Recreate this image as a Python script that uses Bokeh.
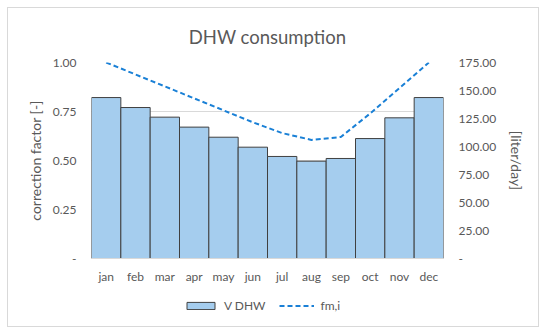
from bokeh.plotting import figure
from bokeh.layouts import column
from bokeh.models import (Range1d, LinearAxis, FixedTicker, CustomJSTickFormatter,
                          Legend, LegendItem, Title, ColumnDataSource)
from bokeh.embed import file_html
from bokeh.resources import INLINE

months = ["jan", "feb", "mar", "apr", "may", "jun", "jul", "aug", "sep", "oct", "nov", "dec"]
v_dhw = [143.7, 134.8, 126.2, 117.3, 108.3, 99.4, 91.1, 86.9, 89.3, 107.1, 125.6, 143.7]
fm_i = [1.0, 0.939, 0.878, 0.817, 0.756, 0.695, 0.64, 0.605, 0.62, 0.74, 0.87, 1.0]
left_ticks = [0, 0.25, 0.5, 0.75, 1.0]
right_ticks = [0, 25, 50, 75, 100, 125, 150, 175]

FONT = "Lato"
GRAY = "#595959"
BAR_FILL = "#a5cdee"
BAR_LINE = "#404040"
LINE_COLOR = "#1a80d6"

src = ColumnDataSource(dict(month=months, vdhw=v_dhw, fm=fm_i))

p = figure(x_range=months, y_range=Range1d(0, 1.0), width=530, height=278,
           output_backend="svg", toolbar_location=None,
           min_border_left=83, min_border_right=95, min_border_top=54, min_border_bottom=26)
p.outline_line_color = None
p.extra_y_ranges = {"r": Range1d(0, 175)}

bars = p.vbar(x="month", top="vdhw", width=1.0, source=src, y_range_name="r",
              fill_color=BAR_FILL, line_color=BAR_LINE, line_width=1)
line = p.line(x="month", y="fm", source=src, line_color=LINE_COLOR, line_width=2,
              line_dash="5 3")

p.title = Title(text="DHW consumption", align="center", text_font=FONT,
                text_font_size="18.5px", text_color=GRAY, text_font_style="normal",
                standoff=30)

fmt = CustomJSTickFormatter(code="return tick == 0 ? '-' : tick.toFixed(2);")

ya = p.yaxis[0]
ya.ticker = FixedTicker(ticks=left_ticks)
ya.formatter = fmt
ya.axis_label = "correction factor [-]"

ra = LinearAxis(y_range_name="r", ticker=FixedTicker(ticks=right_ticks), formatter=fmt,
                axis_label="[liter/day]")
p.add_layout(ra, "right")

for ax in (ya, ra):
    ax.axis_line_color = None
    ax.major_tick_line_color = None
    ax.minor_tick_line_color = None
    ax.major_label_text_font = FONT
    ax.major_label_text_font_size = "12px"
    ax.major_label_text_color = GRAY
    ax.axis_label_text_font = FONT
    ax.axis_label_text_font_size = "14px"
    ax.axis_label_text_color = GRAY
    ax.axis_label_text_font_style = "normal"
    ax.major_label_standoff = 9
ya.axis_label_standoff = 6
ra.axis_label_standoff = 9

xa = p.xaxis[0]
xa.axis_line_color = "#d9d9d9"
xa.major_tick_line_color = None
xa.minor_tick_line_color = None
xa.major_label_text_font = FONT
xa.major_label_text_font_size = "12px"
xa.major_label_text_color = GRAY
xa.major_label_standoff = 4

p.xgrid.grid_line_color = None
p.ygrid.grid_line_color = "#d9d9d9"
p.ygrid.ticker = FixedTicker(ticks=left_ticks)

# legend strip (separate small figure; its renderers fall outside its range)
lf = figure(x_range=months, y_range=Range1d(500, 600), width=530, height=40,
            output_backend="svg", toolbar_location=None, min_border=0,
            x_axis_type=None, y_axis_type=None)
lf.outline_line_color = None
lf.xgrid.grid_line_color = None
lf.ygrid.grid_line_color = None
lb = lf.vbar(x="month", top="vdhw", width=1.0, source=src,
             fill_color=BAR_FILL, line_color=BAR_LINE, line_width=1)
ll = lf.line(x="month", y="fm", source=src, line_color=LINE_COLOR, line_width=2,
             line_dash="5 3")

legend = Legend(items=[LegendItem(label="V DHW", renderers=[lb]),
                       LegendItem(label="fm,i", renderers=[ll])],
                orientation="horizontal", location=(92, 13),
                glyph_width=35, glyph_height=9, label_standoff=6, spacing=14,
                label_height=12, label_text_font=FONT, label_text_font_size="12px",
                label_text_color=GRAY, label_text_baseline="middle",
                border_line_color=None, background_fill_color=None, margin=0, padding=6)
lf.add_layout(legend, "center")

layout = column(p, lf, margin=(7, 0, 0, 7), styles={"border": "1px solid #d9d9d9"})

open("out.html", "w").write(file_html(layout, INLINE))
